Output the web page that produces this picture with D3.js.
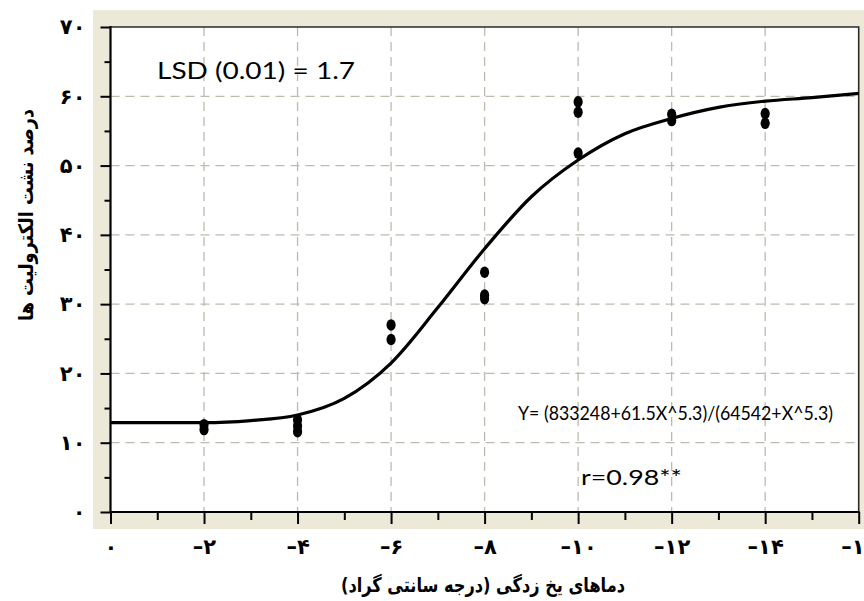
<!DOCTYPE html>
<html>
<head>
<meta charset="utf-8">
<script src="https://cdn.jsdelivr.net/npm/d3@7"></script>
<style>
  body { margin: 0; background: #fff; }
  svg { display: block; }
</style>
</head>
<body>
<div id="chart"></div>
<script>
// temperatures (degC) and tick labels
var xTickValues = [0, -2, -4, -6, -8, -10, -12, -14, -16];
var xTickLabels = ["۰", "–۲", "–۴", "–۶", "–۸", "–۱۰", "–۱۲", "–۱۴", "–۱۶"];
var yTickValues = [0, 10, 20, 30, 40, 50, 60, 70];
var yTickLabels = ["۰", "۱۰", "۲۰", "۳۰", "۴۰", "۵۰", "۶۰", "۷۰"];

// fitted curve
var curveX = [0, -1, -2, -3, -4, -5, -6, -7, -8, -9, -10, -11, -12, -13, -14, -15, -16];
var curveY = [12.9, 12.9, 12.9, 13.2, 14.0, 16.4, 21.5, 29.5, 38.0, 45.5, 50.8, 54.6, 56.8, 58.4, 59.3, 59.8, 60.4];

// observed points (replicates)
var pointX = [-2, -2, -4, -4, -4, -6, -6, -8, -8, -8, -10, -10, -10, -12, -12, -14, -14];
var pointY = [12.6, 11.9, 13.3, 12.4, 11.6, 27.0, 24.9, 34.6, 31.3, 30.8, 59.2, 57.7, 51.8, 57.4, 56.5, 57.5, 56.1];

var xTitle = "دماهای یخ زدگی (درجه سانتی گراد)";
var yTitle = "درصد نشت الکترولیت ها";
var lsdText = "LSD (0.01) = 1.7";
var eqText = "Y= (833248+61.5X^5.3)/(64542+X^5.3)";
var rText = "r=0.98**";

var width = 864;
var height = 601;

var plotLeft = 110.5;
var plotRight = 858.7;
var plotTop = 27;
var plotBottom = 512;

var svg = d3
  .select("#chart")
  .append("svg")
  .attr("width", width)
  .attr("height", height);

// beige chart area
svg
  .append("rect")
  .attr("x", 93)
  .attr("y", 10)
  .attr("width", width - 93)
  .attr("height", 529 - 10)
  .attr("fill", "#ECE9D8");

svg
  .append("rect")
  .attr("x", plotLeft)
  .attr("y", plotTop)
  .attr("width", plotRight - plotLeft)
  .attr("height", plotBottom - plotTop)
  .attr("fill", "#fff");

var xScale = d3.scaleLinear().domain([0, -16]).range([plotLeft, plotRight]);
var yScale = d3.scaleLinear().domain([0, 70]).range([plotBottom, plotTop]);

// grid lines
var grid = svg.append("g").attr("class", "grid");
grid
  .selectAll(".vgrid")
  .data(xTickValues.slice(1, -1))
  .enter()
  .append("line")
  .attr("x1", function (d) { return xScale(d); })
  .attr("x2", function (d) { return xScale(d); })
  .attr("y1", plotTop)
  .attr("y2", plotBottom)
  .attr("stroke", "#BEBAAE")
  .attr("stroke-width", 1.3)
  .attr("stroke-dasharray", "9,6");
grid
  .selectAll(".hgrid")
  .data(yTickValues.slice(1, -1))
  .enter()
  .append("line")
  .attr("x1", plotLeft)
  .attr("x2", plotRight)
  .attr("y1", function (d) { return yScale(d); })
  .attr("y2", function (d) { return yScale(d); })
  .attr("stroke", "#BEBAAE")
  .attr("stroke-width", 1.3)
  .attr("stroke-dasharray", "9,6");

// top and right border
svg
  .append("path")
  .attr("d", "M" + plotLeft + "," + plotTop + "H" + plotRight + "V" + plotBottom)
  .attr("fill", "none")
  .attr("stroke", "#2b2b2b")
  .attr("stroke-width", 1.6);

// axes
var xAxis = d3
  .axisBottom(xScale)
  .tickValues(xTickValues)
  .tickSize(12)
  .tickPadding(15)
  .tickFormat(function (d, i) { return xTickLabels[i]; });

var xMinor = d3
  .axisBottom(xScale)
  .tickValues(d3.range(-1, -16, -2))
  .tickSize(8)
  .tickFormat("");

var yAxis = d3
  .axisLeft(yScale)
  .tickValues(yTickValues)
  .tickSize(10)
  .tickPadding(15)
  .tickFormat(function (d, i) { return yTickLabels[i]; });

var yMinor = d3
  .axisLeft(yScale)
  .tickValues(d3.range(5, 70, 10))
  .tickSize(6)
  .tickFormat("");

function styleAxis(g) {
  g.select(".domain").remove();
  g.selectAll(".tick line").attr("stroke", "#000").attr("stroke-width", 2);
  g.selectAll(".tick text")
    .attr("fill", "#000")
    .style("font-family", "'DejaVu Sans', sans-serif")
    .style("font-weight", "bold")
    .style("font-size", "21px")
    .attr("direction", "ltr");
}

svg.append("g").attr("transform", "translate(0," + plotBottom + ")").call(xMinor).call(styleAxis);
svg.append("g").attr("transform", "translate(0," + plotBottom + ")").call(xAxis).call(styleAxis);
svg.append("g").attr("transform", "translate(" + plotLeft + ",0)").call(yMinor).call(styleAxis);
svg.append("g").attr("transform", "translate(" + plotLeft + ",0)").call(yAxis).call(styleAxis);

// axis lines
svg
  .append("path")
  .attr("d", "M" + plotLeft + "," + (plotTop - 1) + "V" + plotBottom + "H" + (plotRight + 1))
  .attr("fill", "none")
  .attr("stroke", "#000")
  .attr("stroke-width", 2.2);

// fitted curve
var line = d3
  .line()
  .x(function (d) { return xScale(d[0]); })
  .y(function (d) { return yScale(d[1]); })
  .curve(d3.curveMonotoneX);

svg
  .append("path")
  .datum(d3.zip(curveX, curveY))
  .attr("d", line)
  .attr("fill", "none")
  .attr("stroke", "#000")
  .attr("stroke-width", 3.2);

// points
svg
  .selectAll(".pt")
  .data(d3.zip(pointX, pointY))
  .enter()
  .append("ellipse")
  .attr("cx", function (d) { return xScale(d[0]); })
  .attr("cy", function (d) { return yScale(d[1]); })
  .attr("rx", 4.6)
  .attr("ry", 5.8)
  .attr("fill", "#000");

// annotations
svg
  .append("text")
  .attr("x", 157)
  .attr("y", 79)
  .attr("textLength", 198)
  .attr("lengthAdjust", "spacingAndGlyphs")
  .style("font-family", "Lato, 'Open Sans', sans-serif")
  .style("font-size", "23px")
  .attr("fill", "#000")
  .text(lsdText);

svg
  .append("text")
  .attr("x", 518)
  .attr("y", 420)
  .attr("textLength", 315)
  .attr("lengthAdjust", "spacingAndGlyphs")
  .style("font-family", "Lato, 'Open Sans', sans-serif")
  .style("font-size", "20px")
  .attr("fill", "#000")
  .text(eqText);

svg
  .append("text")
  .attr("x", 581)
  .attr("y", 485)
  .attr("textLength", 101)
  .attr("lengthAdjust", "spacingAndGlyphs")
  .style("font-family", "Lato, 'Open Sans', sans-serif")
  .style("font-size", "21px")
  .attr("fill", "#000")
  .text(rText);

// axis titles
svg
  .append("text")
  .attr("x", 483)
  .attr("y", 592)
  .attr("text-anchor", "middle")
  .attr("direction", "rtl")
  .attr("textLength", 284)
  .attr("lengthAdjust", "spacingAndGlyphs")
  .style("unicode-bidi", "embed")
  .style("font-family", "'DejaVu Sans', sans-serif")
  .style("font-weight", "bold")
  .style("font-size", "20px")
  .attr("fill", "#000")
  .text(xTitle);

svg
  .append("text")
  .attr("transform", "translate(33,215)rotate(-90)")
  .attr("text-anchor", "middle")
  .attr("direction", "rtl")
  .attr("textLength", 212)
  .attr("lengthAdjust", "spacingAndGlyphs")
  .style("unicode-bidi", "embed")
  .style("font-family", "'DejaVu Sans', sans-serif")
  .style("font-weight", "bold")
  .style("font-size", "20px")
  .attr("fill", "#000")
  .text(yTitle);
</script>
</body>
</html>
